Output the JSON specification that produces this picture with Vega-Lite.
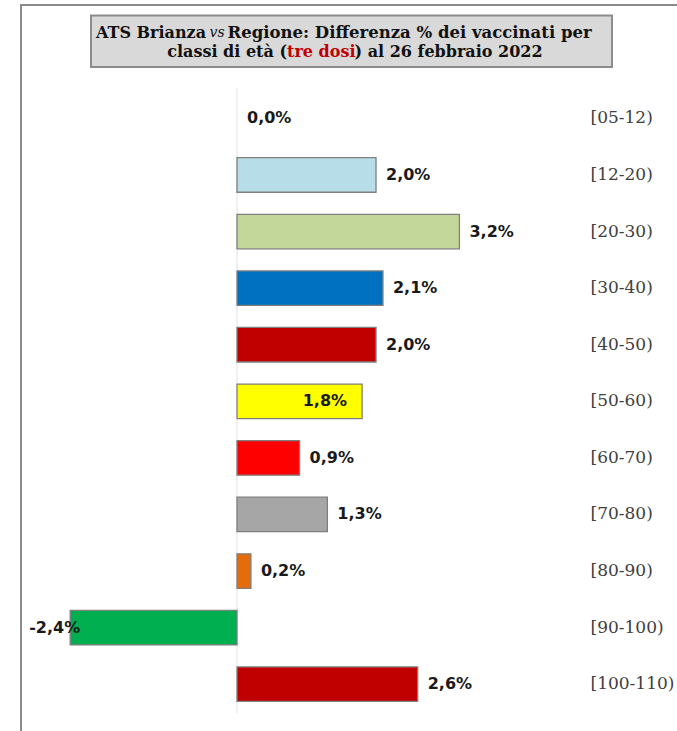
{
  "$schema": "https://vega.github.io/schema/vega-lite/v6.json",
  "width": 657,
  "height": 727,
  "autosize": {"type": "none"},
  "padding": {"left": 21, "top": 5, "right": 0, "bottom": 0},
  "background": "white",
  "config": {
    "view": {"stroke": "#8c8c8c", "strokeWidth": 2},
    "locale": {"number": {"decimal": ",", "thousands": ".", "grouping": [3], "currency": ["€", ""], "minus": "-"}}
  },
  "datasets": {
    "rows": [
      {"cls": "[05-12)", "v": 0.0},
      {"cls": "[12-20)", "v": 0.020},
      {"cls": "[20-30)", "v": 0.032},
      {"cls": "[30-40)", "v": 0.021},
      {"cls": "[40-50)", "v": 0.020},
      {"cls": "[50-60)", "v": 0.018},
      {"cls": "[60-70)", "v": 0.009},
      {"cls": "[70-80)", "v": 0.013},
      {"cls": "[80-90)", "v": 0.002},
      {"cls": "[90-100)", "v": -0.024},
      {"cls": "[100-110)", "v": 0.026}
    ],
    "title": [
      {"box": "T", "seg": "s1", "text": "ATS Brianza"},
      {"box": "T", "seg": "s2", "text": "vs"},
      {"box": "T", "seg": "s3", "text": "Regione: Differenza % dei vaccinati per"},
      {"box": "T", "seg": "s4", "text": "classi di età ("},
      {"box": "T", "seg": "s5", "text": "tre dosi"},
      {"box": "T", "seg": "s6", "text": ") al 26 febbraio 2022"}
    ]
  },
  "layer": [
    {
      "data": {"name": "title"},
      "encoding": {
        "y": {"field": "box", "type": "nominal", "axis": null,
              "scale": {"domain": ["T"], "range": [10.5, 62], "paddingInner": 0, "paddingOuter": 0}}
      },
      "layer": [
        {
          "transform": [{"filter": "datum.seg === 's1'"}],
          "mark": {"type": "bar", "fill": "#d9d9d9", "stroke": "#8c8c8c", "strokeWidth": 2},
          "encoding": {
            "x": {"datum": 0, "type": "quantitative", "axis": null, "scale": {"domain": [0, 1], "range": [70, 591], "nice": false, "zero": false}},
            "x2": {"datum": 1}
          }
        },
        {
          "transform": [{"filter": "datum.seg === 's1'"}],
          "mark": {"type": "text", "font": "DejaVu Serif", "fontWeight": "bold", "fontSize": 16, "align": "right", "baseline": "middle", "dx": -145.5, "dy": -8.5, "color": "#111111"},
          "encoding": {"x": {"datum": 0.5, "type": "quantitative"}, "text": {"field": "text"}}
        },
        {
          "transform": [{"filter": "datum.seg === 's2'"}],
          "mark": {"type": "text", "font": "DejaVu Serif", "fontStyle": "italic", "fontWeight": "normal", "fontSize": 14, "align": "left", "baseline": "middle", "dx": -142, "dy": -8.5, "color": "#111111"},
          "encoding": {"x": {"datum": 0.5, "type": "quantitative"}, "text": {"field": "text"}}
        },
        {
          "transform": [{"filter": "datum.seg === 's3'"}],
          "mark": {"type": "text", "font": "DejaVu Serif", "fontWeight": "bold", "fontSize": 16.5, "align": "left", "baseline": "middle", "dx": -124, "dy": -8.5, "color": "#111111"},
          "encoding": {"x": {"datum": 0.5, "type": "quantitative"}, "text": {"field": "text"}}
        },
        {
          "transform": [{"filter": "datum.seg === 's4'"}],
          "mark": {"type": "text", "font": "DejaVu Serif", "fontWeight": "bold", "fontSize": 16, "align": "right", "baseline": "middle", "dx": -64.5, "dy": 10.5, "color": "#111111"},
          "encoding": {"x": {"datum": 0.5, "type": "quantitative"}, "text": {"field": "text"}}
        },
        {
          "transform": [{"filter": "datum.seg === 's5'"}],
          "mark": {"type": "text", "font": "DejaVu Serif", "fontWeight": "bold", "fontSize": 16, "align": "left", "baseline": "middle", "dx": -64.5, "dy": 10.5, "color": "#c00000"},
          "encoding": {"x": {"datum": 0.5, "type": "quantitative"}, "text": {"field": "text"}}
        },
        {
          "transform": [{"filter": "datum.seg === 's6'"}],
          "mark": {"type": "text", "font": "DejaVu Serif", "fontWeight": "bold", "fontSize": 16, "align": "left", "baseline": "middle", "dx": 3, "dy": 10.5, "color": "#111111"},
          "encoding": {"x": {"datum": 0.5, "type": "quantitative"}, "text": {"field": "text"}}
        }
      ]
    },
    {
      "data": {"values": [{"z": 0}]},
      "mark": {"type": "rule", "color": "#e3e3e3", "strokeWidth": 1},
      "encoding": {
        "x": {"field": "z", "type": "quantitative", "axis": null, "scale": {"domain": [-0.03108, 0.06345], "nice": false, "zero": false}},
        "y": {"datum": 0, "type": "quantitative", "axis": null, "scale": {"domain": [0, 1], "range": [83, 708], "nice": false, "zero": false}},
        "y2": {"datum": 1}
      }
    },
    {
      "data": {"name": "rows"},
      "encoding": {
        "y": {
          "field": "cls", "type": "nominal",
          "scale": {
            "domain": ["[05-12)", "[12-20)", "[20-30)", "[30-40)", "[40-50)", "[50-60)", "[60-70)", "[70-80)", "[80-90)", "[90-100)", "[100-110)"],
            "range": [85.1, 707.5], "paddingInner": 0.39, "paddingOuter": 0.195
          },
          "axis": {"orient": "right", "offset": -88, "title": null, "domain": false, "ticks": false, "labelPadding": 0, "labelAlign": "left", "labelBaseline": "middle", "labelFont": "DejaVu Serif", "labelFontSize": 17, "labelColor": "#404040", "grid": false}
        }
      },
      "layer": [
        {
          "transform": [{"filter": "datum.v !== 0"}],
          "mark": {"type": "bar", "stroke": "#7f7f7f", "strokeWidth": 1.3},
          "encoding": {
            "x": {"field": "v", "type": "quantitative", "axis": null, "scale": {"domain": [-0.03108, 0.06345], "nice": false, "zero": false}},
            "x2": {"datum": 0},
            "color": {
              "field": "cls", "type": "nominal", "legend": null,
              "scale": {
                "domain": ["[05-12)", "[12-20)", "[20-30)", "[30-40)", "[40-50)", "[50-60)", "[60-70)", "[70-80)", "[80-90)", "[90-100)", "[100-110)"],
                "range": ["#ffffff", "#b7dee8", "#c4d79b", "#0070c0", "#c00000", "#ffff00", "#ff0000", "#a6a6a6", "#e46c0a", "#00b050", "#c00000"]
              }
            }
          }
        },
        {
          "transform": [{"filter": "datum.v >= 0 && datum.cls !== '[50-60)'"}],
          "mark": {"type": "text", "font": "DejaVu Sans", "fontWeight": "bold", "fontSize": 16, "align": "left", "baseline": "middle", "dx": 10, "color": "#1a1a1a"},
          "encoding": {
            "x": {"field": "v", "type": "quantitative"},
            "text": {"field": "v", "type": "quantitative", "format": ".1%"}
          }
        },
        {
          "transform": [{"filter": "datum.cls === '[50-60)'"}],
          "mark": {"type": "text", "font": "DejaVu Sans", "fontWeight": "bold", "fontSize": 16, "align": "right", "baseline": "middle", "dx": -15, "color": "#1a1a1a"},
          "encoding": {
            "x": {"field": "v", "type": "quantitative"},
            "text": {"field": "v", "type": "quantitative", "format": ".1%"}
          }
        },
        {
          "transform": [{"filter": "datum.v < 0"}],
          "mark": {"type": "text", "font": "DejaVu Sans", "fontWeight": "bold", "fontSize": 16, "align": "left", "baseline": "middle", "dx": -41, "color": "#1a1a1a"},
          "encoding": {
            "x": {"field": "v", "type": "quantitative"},
            "text": {"field": "v", "type": "quantitative", "format": ".1%"}
          }
        }
      ]
    }
  ],
  "resolve": {"scale": {"x": "independent", "y": "independent"}}
}
